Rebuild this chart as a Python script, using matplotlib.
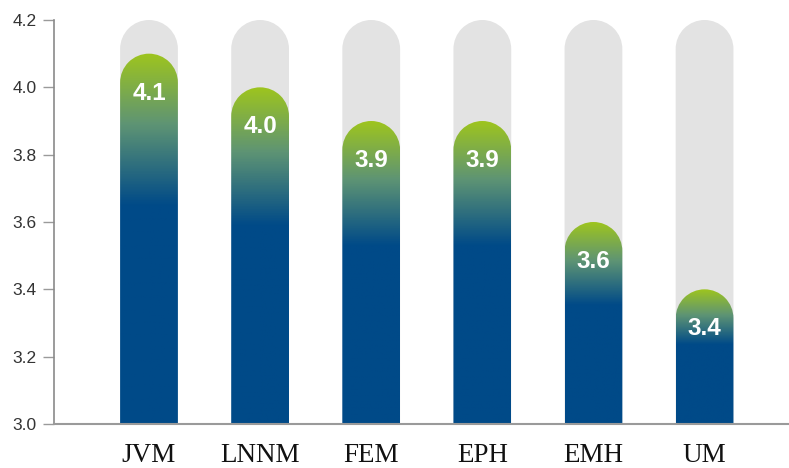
import numpy as np
import matplotlib
matplotlib.use("Agg")
import matplotlib.pyplot as plt
from matplotlib.path import Path
from matplotlib.patches import PathPatch
from matplotlib.colors import LinearSegmentedColormap
from matplotlib.transforms import Affine2D

categories = ["JVM", "LNNM", "FEM", "EPH", "EMH", "UM"]
scores = [4.1, 4.0, 3.9, 3.9, 3.6, 3.4]
y_ticks = [3.0, 3.2, 3.4, 3.6, 3.8, 4.0, 4.2]

Y_MIN, Y_MAX = 3.0, 4.2
BAR_W = 0.52
GREEN = "#9dc41f"
MID = "#5e9474"
BLUE = "#004a88"
TRACK = "#e3e3e3"

W_PX, H_PX = 789, 468
fig = plt.figure(figsize=(W_PX / 100, H_PX / 100), dpi=100)
ax_left, ax_bottom, ax_w, ax_h = 54, 44, 735, 404
ax = fig.add_axes([ax_left / W_PX, ax_bottom / H_PX, ax_w / W_PX, ax_h / H_PX])
x_lo, x_hi = -0.855, 5.76
ax.set_xlim(x_lo, x_hi)
ax.set_ylim(Y_MIN, Y_MAX)

# convert the horizontal cap radius into vertical data units so the caps stay round
px_per_x = ax_w / (x_hi - x_lo)
px_per_y = ax_h / (Y_MAX - Y_MIN)


def pill_path(xc, top, width):
    rx = width / 2
    ry = rx * px_per_x / px_per_y
    arc = Path.arc(0, 180)
    arc_verts = Affine2D().scale(rx, ry).translate(xc, top - ry).transform(arc.vertices)
    verts = [(xc + rx, Y_MIN)] + list(map(tuple, arc_verts)) + [(xc - rx, Y_MIN), (xc + rx, Y_MIN)]
    codes = [Path.MOVETO, Path.LINETO] + list(arc.codes[1:]) + [Path.LINETO, Path.CLOSEPOLY]
    return Path(verts, codes)


bar_cmap = LinearSegmentedColormap.from_list(
    "bar_fade", [(0.0, GREEN), (0.19, MID), (0.41, BLUE), (1.0, BLUE)])
fade = np.linspace(0, 1, 400).reshape(-1, 1)

for i, (name, val) in enumerate(zip(categories, scores)):
    # grey track up to the top of the scale
    track = PathPatch(pill_path(i, Y_MAX, BAR_W), facecolor=TRACK, edgecolor="none", zorder=1)
    ax.add_patch(track)
    # gradient-filled value bar
    shape = PathPatch(pill_path(i, val, BAR_W), facecolor="none", edgecolor="none",
                      transform=ax.transData)
    img = ax.imshow(fade, cmap=bar_cmap, vmin=0, vmax=1, origin="upper", aspect="auto",
                    extent=(i - BAR_W / 2, i + BAR_W / 2, Y_MIN, val),
                    interpolation="bilinear", zorder=2)
    img.set_clip_path(shape)
    ax.annotate(f"{val:.1f}", xy=(i, val), xytext=(0, -46), textcoords="offset pixels",
                ha="center", va="baseline", color="white", fontweight="bold",
                fontsize=17.5, family="Liberation Sans", zorder=3)

ax.set_xlim(x_lo, x_hi)
ax.set_ylim(Y_MIN, Y_MAX)
ax.set_aspect("auto")

ax.set_xticks(range(len(categories)))
ax.set_xticklabels(categories, fontfamily="Liberation Serif", fontsize=19.5, color="#111111")
ax.set_yticks(y_ticks)
ax.set_yticklabels([f"{t:.1f}" for t in y_ticks], fontfamily="Liberation Sans",
                   fontsize=12.5, color="#333333")
ax.tick_params(axis="x", length=0, pad=13.5)
ax.tick_params(axis="y", length=8, width=1, color="#9a9a9a", pad=4.5)

for side in ("top", "right"):
    ax.spines[side].set_visible(False)
ax.spines["left"].set_color("#8a8a8a")
ax.spines["left"].set_linewidth(1.2)
ax.spines["bottom"].set_color("#9a9a9a")
ax.spines["bottom"].set_linewidth(1.5)
ax.spines["left"].set_zorder(4)
ax.spines["bottom"].set_zorder(4)

fig.savefig("out.png", dpi=100)
